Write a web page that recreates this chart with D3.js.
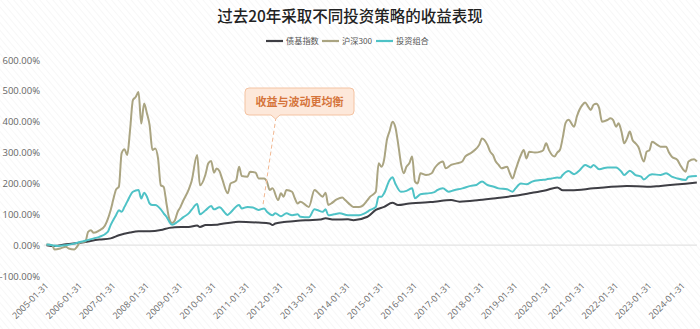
<!DOCTYPE html>
<html><head><meta charset="utf-8">
<script src="https://cdn.jsdelivr.net/npm/d3@7"></script>
<style>
html,body{margin:0;padding:0;background:#fff;}
svg{display:block;font-family:"Open Sans","Noto Sans CJK SC",sans-serif;}
</style></head>
<body><svg id="c" width="700" height="329"></svg>
<script>
// ---- data (month offset from 2005-01, cumulative return in %) ----
const startYear = 2005;
const seriesNames = ["债基指数", "沪深300", "投资组合"];
const seriesColors = ["#3e3e44", "#aaa481", "#4ec2c6"];
const tickLabels = ["2005-01-31","2006-01-31","2007-01-31","2008-01-31","2009-01-31","2010-01-31","2011-01-31","2012-01-31","2013-01-31","2014-01-31","2015-01-31","2016-01-31","2017-01-31","2018-01-31","2019-01-31","2020-01-31","2021-01-31","2022-01-31","2023-01-31","2024-01-31"];
const yTicks = [-100, 0, 100, 200, 300, 400, 500, 600];

const bondIndex = [[0,0],[3,-3],[7,3],[12,8],[19,18],[23,22],[26,32],[30,41],[33,45],[37,45],[41,49],[44,56],[48,59],[51,59],[54,64],[55,59],[57,65],[61,66],[62,68],[67,74],[69,76],[76,73],[80,70],[81,65],[82,70],[86,76],[90,79],[94,81],[98,83],[100,87],[103,83],[108,84],[110,81],[115,92],[118,114],[121,124],[124,137],[126,130],[130,135],[134,137],[139,141],[145,146],[148,141],[155,146],[161,152],[167,159],[173,168],[179,178],[183,187],[185,178],[188,178],[196,184],[208,192],[215,189],[220,192],[233,203]];

const csi300 = [[0,2],[2,0],[3,-14],[5,-11],[7,-5],[8,-11],[10,-14],[11,-5],[12,9],[14,12],[15,43],[16,48],[17,40],[19,48],[21,64],[23,113],[24,150],[25,180],[26,189],[27,298],[28,311],[29,292],[30,373],[31,470],[32,480],[33,496],[34,394],[35,459],[36,427],[37,389],[38,308],[39,313],[40,281],[41,194],[42,189],[43,135],[44,86],[45,72],[46,80],[47,108],[48,124],[49,143],[51,180],[52,206],[54,292],[55,194],[57,230],[58,265],[59,273],[60,235],[61,248],[62,240],[63,215],[65,168],[66,200],[67,204],[68,210],[69,254],[70,224],[72,222],[73,238],[75,235],[76,216],[78,216],[79,206],[80,179],[81,184],[83,146],[84,168],[85,157],[86,179],[88,173],[89,152],[90,135],[91,141],[94,124],[96,179],[97,173],[99,157],[100,170],[101,130],[102,135],[104,148],[106,154],[107,146],[109,130],[110,124],[112,124],[113,126],[115,146],[116,157],[118,173],[119,265],[120,254],[121,276],[122,341],[123,370],[124,400],[125,384],[126,330],[127,265],[128,233],[129,255],[130,265],[131,287],[132,206],[133,200],[134,233],[136,227],[138,233],[139,249],[140,260],[142,271],[143,249],[145,260],[147,265],[149,271],[150,287],[152,298],[153,305],[155,325],[156,346],[158,325],[159,303],[160,292],[161,271],[162,260],[163,249],[165,254],[166,233],[167,216],[168,243],[170,292],[171,308],[172,281],[173,303],[175,300],[177,303],[178,308],[179,330],[180,308],[182,287],[183,300],[184,310],[185,350],[186,397],[187,406],[189,384],[190,417],[192,455],[193,462],[194,450],[195,438],[196,455],[197,458],[198,444],[199,400],[201,406],[202,411],[203,405],[204,384],[205,395],[206,368],[207,330],[208,346],[209,368],[210,340],[211,330],[212,319],[214,271],[215,303],[216,308],[217,335],[219,324],[220,319],[222,319],[223,300],[224,287],[226,276],[227,260],[229,238],[230,271],[232,278],[233,271]];

const portfolio = [[0,2],[2,0],[4,-3],[7,0],[10,5],[12,10],[14,14],[17,22],[19,27],[22,43],[23,65],[25,97],[26,113],[27,108],[28,124],[29,141],[31,173],[33,179],[34,151],[35,170],[36,157],[37,135],[38,130],[39,130],[41,116],[42,103],[43,92],[44,76],[45,66],[47,76],[49,90],[51,103],[52,114],[54,133],[55,100],[57,113],[59,127],[60,116],[62,123],[65,98],[66,106],[69,130],[70,119],[72,124],[74,122],[76,114],[78,119],[79,108],[81,97],[82,103],[84,94],[86,103],[88,97],[90,100],[91,92],[94,90],[96,116],[97,114],[99,108],[100,116],[101,97],[103,100],[105,103],[108,97],[110,97],[112,97],[114,103],[116,114],[118,124],[119,157],[120,157],[121,168],[123,211],[124,220],[125,200],[127,173],[129,176],[131,184],[132,152],[134,165],[136,167],[139,172],[140,178],[142,184],[144,173],[146,178],[149,184],[152,192],[154,195],[156,206],[158,195],[160,190],[162,184],[165,181],[167,173],[168,184],[170,200],[172,197],[174,206],[177,211],[179,213],[181,216],[183,219],[184,218],[185,228],[187,240],[189,230],[191,243],[193,260],[195,252],[196,260],[198,246],[201,252],[204,252],[206,238],[207,227],[209,241],[211,227],[213,222],[214,213],[216,227],[217,230],[220,227],[222,233],[224,222],[226,216],[229,211],[230,222],[233,224]];

const titleText = "过去20年采取不同投资策略的收益表现";
const calloutText = "收益与波动更均衡";

// ---- drawing ----
const svg = d3.select("#c");
const parse = d3.timeParse("%Y-%m-%d");
const monthEnd = m => new Date(startYear, m + 1, 0);

const x = d3.scaleTime()
  .domain([parse("2005-01-31"), parse("2024-01-31")])
  .range([46.5, 683]);
const y = d3.scaleLinear().domain([-100, 600]).range([276, 60]);

// background hatch
const defs = svg.append("defs");
const pat = defs.append("pattern").attr("id","hatch").attr("width",5).attr("height",5)
  .attr("patternUnits","userSpaceOnUse").attr("patternTransform","rotate(-40)");
pat.append("rect").attr("width",5).attr("height",5).attr("fill","#ffffff");
pat.append("line").attr("x1",0).attr("y1",0).attr("x2",0).attr("y2",5)
  .attr("stroke","#f2f2f2").attr("stroke-width",1.1);
svg.append("rect").attr("width",700).attr("height",329).attr("fill","url(#hatch)");

// title
svg.append("text").attr("x",350).attr("y",22).attr("text-anchor","middle")
  .attr("font-family","'Noto Sans CJK SC',sans-serif").attr("font-size",15.5).attr("font-weight",500)
  .attr("fill","#222").text(titleText);

// legend
const legendX = [266, 322, 376];
seriesNames.forEach((n,i)=>{
  const g = svg.append("g").attr("transform",`translate(${legendX[i]},41)`);
  g.append("line").attr("x1",0).attr("x2",17).attr("y1",0).attr("y2",0)
    .attr("stroke",seriesColors[i]).attr("stroke-width",2.2);
  g.append("text").attr("x",20).attr("y",3).attr("font-size",8.2)
    .attr("font-family","'Noto Sans CJK SC',sans-serif").attr("fill","#555").text(n);
});

// y axis labels
const yAxis = d3.axisLeft(y).tickValues(yTicks).tickSize(0).tickPadding(0)
  .tickFormat(v => v.toFixed(2) + "%");
const yg = svg.append("g").attr("transform","translate(40,0)").call(yAxis);
yg.select(".domain").remove();
yg.selectAll("text").attr("font-size",9.5).attr("fill","#666").attr("font-family","'Open Sans',sans-serif");

// zero line
svg.append("line").attr("x1",44).attr("x2",697).attr("y1",y(0)).attr("y2",y(0))
  .attr("stroke","#e3e3e3").attr("stroke-width",1.2);

// x axis labels
const xAxis = d3.axisBottom(x).tickValues(tickLabels.map(parse)).tickSize(0).tickPadding(0)
  .tickFormat(d3.timeFormat("%Y-%m-%d"));
const xg = svg.append("g").attr("transform","translate(0,284)").call(xAxis);
xg.select(".domain").remove();
xg.selectAll("text").attr("font-size",9).attr("fill","#6a6a6a")
  .attr("font-family","'Open Sans',sans-serif")
  .attr("text-anchor","end").attr("dy","0.35em").attr("dx",0)
  .attr("transform","rotate(-45)");

// lines
const line = d3.line().x(d => x(monthEnd(d[0]))).y(d => y(d[1])).curve(d3.curveMonotoneX);
[bondIndex, csi300, portfolio].forEach((s,i)=>{
  svg.append("path").datum(s).attr("d",line).attr("fill","none")
    .attr("stroke",seriesColors[i]).attr("stroke-width",2).attr("stroke-linejoin","round");
});

// callout
const cg = svg.append("g");
cg.append("line").attr("x1",276).attr("y1",117).attr("x2",263).attr("y2",205)
  .attr("stroke","#f2b892").attr("stroke-width",1).attr("stroke-dasharray","4,3");
cg.append("path")
  .attr("d","M249,88 H350 Q354,88 354,92 V111 Q354,115 350,115 H280 L275.5,119 L271,115 H249 Q245,115 245,111 V92 Q245,88 249,88 Z")
  .attr("fill","#fde8da").attr("stroke","#f4c3a2").attr("stroke-width",1);
cg.append("text").attr("x",299.5).attr("y",105.5).attr("text-anchor","middle")
  .attr("font-family","'Noto Sans CJK SC',sans-serif").attr("font-size",11).attr("font-weight",700)
  .attr("fill","#d5743a").text(calloutText);
</script></body></html>
